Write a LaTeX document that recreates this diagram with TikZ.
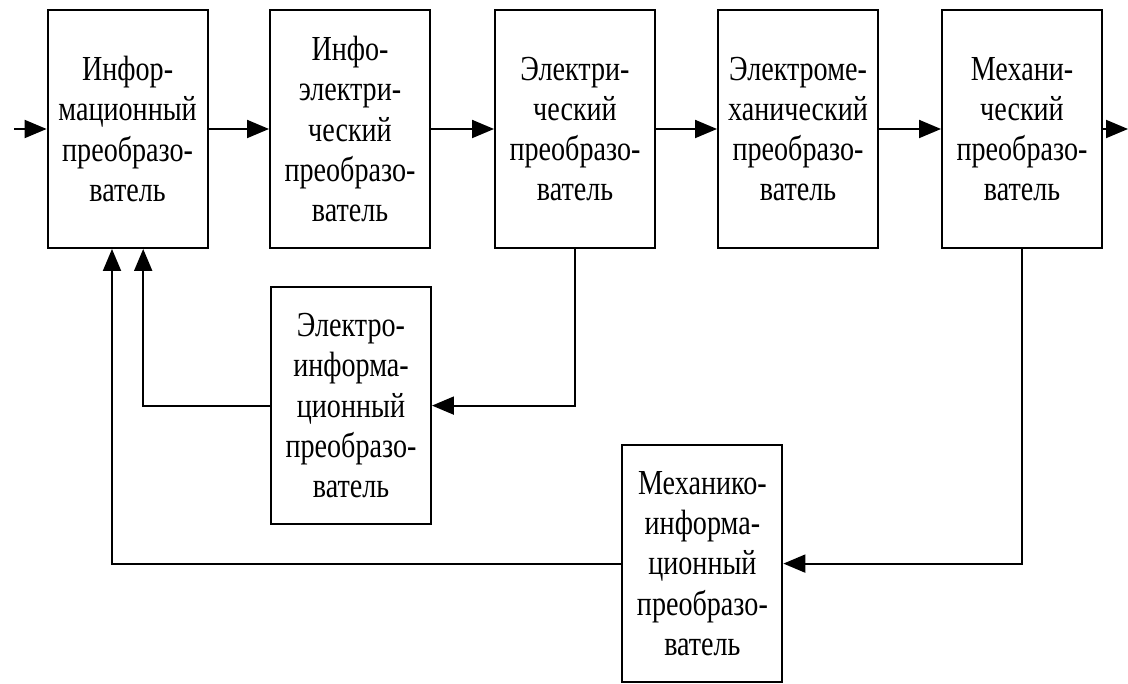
\documentclass[tikz,border=0pt]{standalone}
\usepackage{fontspec}
\setmainfont[FakeStretch=0.8]{Liberation Serif}
\usetikzlibrary{arrows.meta}

\tikzset{
  block/.style={draw, line width=1.4pt, minimum width=4cm, minimum height=5.95cm,
    align=center, inner sep=0pt, font=\fontsize{25}{28.5}\selectfont},
  arr/.style={line width=1.4pt, -{Triangle[length=0.55cm,width=0.45cm]}}
}

\begin{document}
\begin{tikzpicture}
                  \useasboundingbox (0,0) rectangle (28.2,-17.1);
                  \node[block] (b1) at (3.19,-3.225)  {Инфор-\\мационный\\преобразо-\\ватель};
                  \node[block] (b2) at (8.75,-3.225)  {Инфо-\\электри-\\ческий\\преобразо-\\ватель};
                  \node[block] (b3) at (14.375,-3.225) {Электри-\\ческий\\преобразо-\\ватель};
                  \node[block] (b4) at (19.95,-3.225) {Электроме-\\ханический\\преобразо-\\ватель};
                  \node[block] (b5) at (25.55,-3.225) {Механи-\\ческий\\преобразо-\\ватель};
                  \node[block, minimum height=5.925cm] (b6) at (8.775,-10.14)
                    {Электро-\\информа-\\ционный\\преобразо-\\ватель};
                  \node[block, minimum height=5.925cm] (b7) at (17.56,-14.09)
                    {Механико-\\информа-\\ционный\\преобразо-\\ватель};
                  \coordinate (in) at (0.35,-3.225);
                  \coordinate (out) at (28.2,-3.225);
                  \coordinate (fb1) at ([xshift=0.39cm]b1.south);
                  \coordinate (fb2) at ([xshift=-0.39cm]b1.south);
                  \draw[arr] (in) -- (b1);
                  \draw[arr] (b1) -- (b2);
                  \draw[arr] (b2) -- (b3);
                  \draw[arr] (b3) -- (b4);
                  \draw[arr] (b4) -- (b5);
                  \draw[arr] (b5) -- (out);
                  \draw[arr] (b3.south) |- (b6.east);
                  \draw[arr] (b6.west) -| (fb1);
                  \draw[arr] (b5.south) |- (b7.east);
                  \draw[arr] (b7.west) -| (fb2);
                \end{tikzpicture}
\end{document}
